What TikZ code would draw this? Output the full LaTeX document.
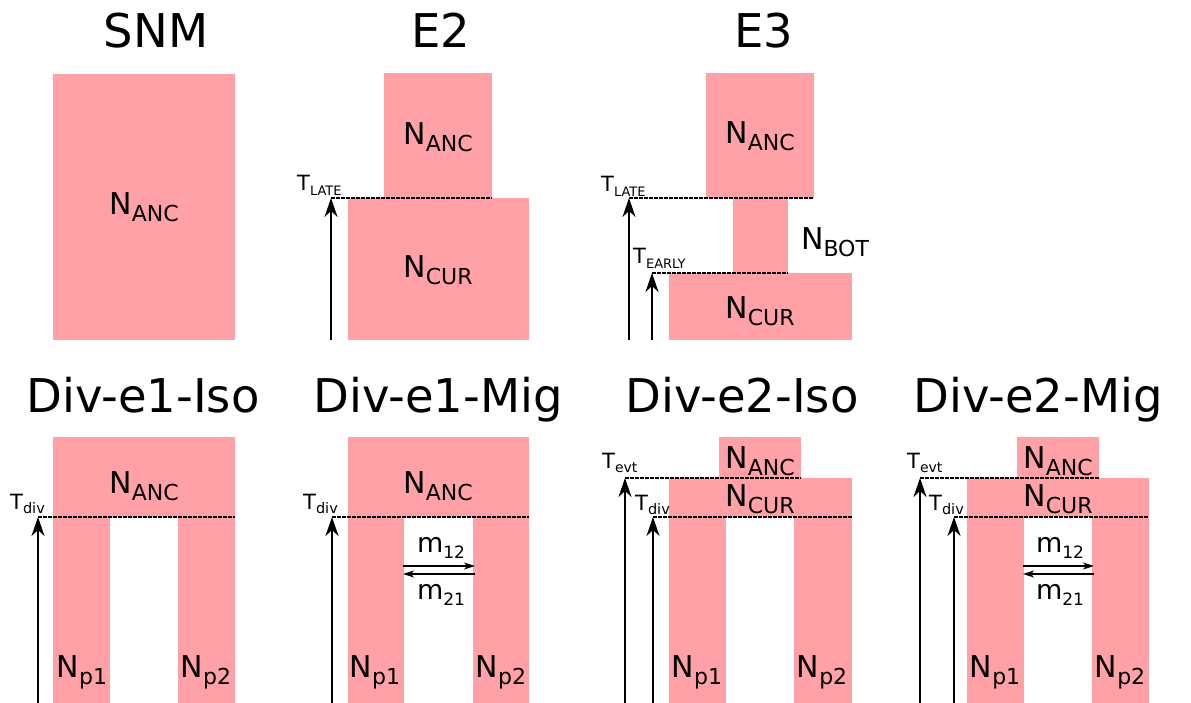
\documentclass[tikz,border=0pt]{standalone}
\usepackage{fontspec}
\setmainfont{DejaVu Sans}
\usetikzlibrary{arrows.meta}
\definecolor{popc}{RGB}{255,161,166}
\newcommand\Nlab[1]{\fontsize{30}{30}\selectfont N\raisebox{-7pt}{\fontsize{22}{22}\selectfont #1}}
\newcommand\Tlab[2]{\fontsize{21}{21}\selectfont T\raisebox{-4.5pt}{\fontsize{#2}{#2}\selectfont #1}}
\newcommand\mlab[1]{\fontsize{27}{27}\selectfont m\raisebox{-6pt}{\fontsize{17}{17}\selectfont #1}}
\tikzset{
  pop/.style={fill=popc, draw=none},
  lab/.style={inner sep=0pt, anchor=base},
  tlab/.style={inner sep=0pt, anchor=base west},
  ttl/.style={inner sep=0pt, anchor=base, font=\fontsize{46.5}{46.5}\selectfont},
  tline/.style={line width=1.3pt, dash pattern=on 3.5pt off 1.5pt},
  tarrow/.style={line width=2pt, -{Stealth[length=19pt,width=13pt,inset=6pt]}},
  marrow/.style={line width=1.3pt, -{Stealth[length=11pt,width=7pt,inset=3pt]}}
}
\begin{document}
\begin{tikzpicture}[x=1pt,y=-1pt]
\useasboundingbox (0,0) rectangle (1191,703);
% titles
\node[ttl] (tSNM) at (156,48) {SNM};
\node[ttl] (tE2) at (441,48) {E2};
\node[ttl] (tE3) at (764,48) {E3};
\node[ttl] (tD1I) at (143,412) {Div-e1-Iso};
\node[ttl] (tD1M) at (438,412) {Div-e1-Mig};
\node[ttl] (tD2I) at (742,412) {Div-e2-Iso};
\node[ttl] (tD2M) at (1038,412) {Div-e2-Mig};
% SNM
\fill[pop] (53,74) rectangle (235,340);
\node[lab] (snmA) at (144,215) {\Nlab{ANC}};
% E2
\fill[pop] (384,73) rectangle (492,198);
\fill[pop] (348,198) rectangle (529,340);
\node[lab] (e2A) at (438,145) {\Nlab{ANC}};
\node[lab] (e2C) at (438,278) {\Nlab{CUR}};
\coordinate (e2b) at (331,340);
\coordinate (e2t) at (331,198);
\coordinate (e2r) at (492,198);
\draw[tline] (e2t) -- (e2r);
\draw[tarrow] (e2b) -- (e2t);
\node[tlab] (e2T) at (297,191) {\Tlab{LATE}{13}};
% E3
\fill[pop] (706,73) rectangle (814,198);
\fill[pop] (733,198) rectangle (788,273);
\fill[pop] (669,273) rectangle (852,340);
\node[lab] (e3A) at (760,144) {\Nlab{ANC}};
\node[lab] (e3B) at (835,250) {\Nlab{BOT}};
\node[lab] (e3C) at (760,318) {\Nlab{CUR}};
\coordinate (e3b1) at (629,340);
\coordinate (e3t1) at (629,198);
\coordinate (e3r1) at (814,198);
\coordinate (e3b2) at (652,340);
\coordinate (e3t2) at (652,273);
\coordinate (e3r2) at (788,273);
\draw[tline] (e3t1) -- (e3r1);
\draw[tline] (e3t2) -- (e3r2);
\draw[tarrow] (e3b1) -- (e3t1);
\draw[tarrow] (e3b2) -- (e3t2);
\node[tlab] (e3TL) at (601,192) {\Tlab{LATE}{13}};
\node[tlab] (e3TE) at (633,264) {\Tlab{EARLY}{13}};
% Div-e1-Iso
\fill[pop] (53,437) rectangle (235,517);
\fill[pop] (53,517) rectangle (110,703);
\fill[pop] (178,517) rectangle (235,703);
\node[lab] (d1iA) at (144,493) {\Nlab{ANC}};
\node[lab] (d1i1) at (82,677) {\Nlab{p1}};
\node[lab] (d1i2) at (206,677) {\Nlab{p2}};
\coordinate (d1ib) at (38,703);
\coordinate (d1it) at (38,517);
\coordinate (d1ir) at (235,517);
\draw[tline] (d1it) -- (d1ir);
\draw[tarrow] (d1ib) -- (d1it);
\node[tlab] (d1iT) at (10,509) {\Tlab{div}{14.5}};
% Div-e1-Mig
\fill[pop] (348,437) rectangle (529,517);
\fill[pop] (348,517) rectangle (404,703);
\fill[pop] (473,517) rectangle (529,703);
\node[lab] (d1mA) at (438,493) {\Nlab{ANC}};
\node[lab] (d1m1) at (375,677) {\Nlab{p1}};
\node[lab] (d1m2) at (501,677) {\Nlab{p2}};
\coordinate (d1mb) at (332,703);
\coordinate (d1mt) at (332,517);
\coordinate (d1mr) at (529,517);
\draw[tline] (d1mt) -- (d1mr);
\draw[tarrow] (d1mb) -- (d1mt);
\node[tlab] (d1mT) at (303,509) {\Tlab{div}{14.5}};
\coordinate (d1mL1) at (403,566);
\coordinate (d1mR1) at (475,566);
\coordinate (d1mL2) at (403,574);
\coordinate (d1mR2) at (475,574);
\draw[marrow] (d1mL1) -- (d1mR1);
\draw[marrow] (d1mR2) -- (d1mL2);
\node[lab] (d1m12) at (441,552) {\mlab{12}};
\node[lab] (d1m21) at (441,599) {\mlab{21}};
% Div-e2-Iso
\fill[pop] (719,437) rectangle (801,478);
\fill[pop] (669,478) rectangle (852,517);
\fill[pop] (669,517) rectangle (726,703);
\fill[pop] (794,517) rectangle (852,703);
\node[lab] (d2iA) at (760,468) {\Nlab{ANC}};
\node[lab] (d2iC) at (760,506) {\Nlab{CUR}};
\node[lab] (d2i1) at (697,677) {\Nlab{p1}};
\node[lab] (d2i2) at (822,677) {\Nlab{p2}};
\coordinate (d2ib1) at (625,703);
\coordinate (d2it1) at (625,478);
\coordinate (d2ir1) at (801,478);
\coordinate (d2ib2) at (653,703);
\coordinate (d2it2) at (653,517);
\coordinate (d2ir2) at (852,517);
\draw[tline] (d2it1) -- (d2ir1);
\draw[tline] (d2it2) -- (d2ir2);
\draw[tarrow] (d2ib1) -- (d2it1);
\draw[tarrow] (d2ib2) -- (d2it2);
\node[tlab] (d2iTe) at (602,468) {\Tlab{evt}{14}};
\node[tlab] (d2iTd) at (635,510) {\Tlab{div}{14.5}};
% Div-e2-Mig
\fill[pop] (1017,437) rectangle (1099,478);
\fill[pop] (967,478) rectangle (1149,517);
\fill[pop] (967,517) rectangle (1024,703);
\fill[pop] (1092,517) rectangle (1149,703);
\node[lab] (d2mA) at (1058,468) {\Nlab{ANC}};
\node[lab] (d2mC) at (1058,506) {\Nlab{CUR}};
\node[lab] (d2m1) at (995,677) {\Nlab{p1}};
\node[lab] (d2m2) at (1120,677) {\Nlab{p2}};
\coordinate (d2mb1) at (920,703);
\coordinate (d2mt1) at (920,478);
\coordinate (d2mr1) at (1099,478);
\coordinate (d2mb2) at (954,703);
\coordinate (d2mt2) at (954,517);
\coordinate (d2mr2) at (1149,517);
\draw[tline] (d2mt1) -- (d2mr1);
\draw[tline] (d2mt2) -- (d2mr2);
\draw[tarrow] (d2mb1) -- (d2mt1);
\draw[tarrow] (d2mb2) -- (d2mt2);
\node[tlab] (d2mTe) at (907,468) {\Tlab{evt}{14}};
\node[tlab] (d2mTd) at (929,510) {\Tlab{div}{14.5}};
\coordinate (d2mL1) at (1023,566);
\coordinate (d2mR1) at (1094,566);
\coordinate (d2mL2) at (1023,574);
\coordinate (d2mR2) at (1094,574);
\draw[marrow] (d2mL1) -- (d2mR1);
\draw[marrow] (d2mR2) -- (d2mL2);
\node[lab] (d2m12) at (1060,552) {\mlab{12}};
\node[lab] (d2m21) at (1060,599) {\mlab{21}};
\end{tikzpicture}
\end{document}
